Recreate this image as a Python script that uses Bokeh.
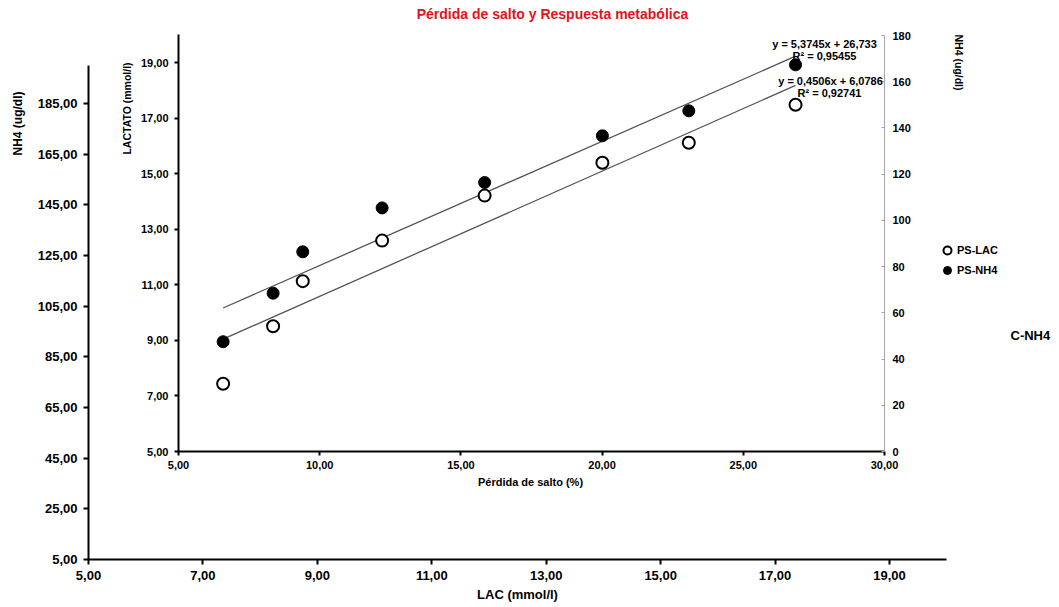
import math
from bokeh.plotting import figure
from bokeh.models import LinearAxis, Range1d, Label, Legend, LegendItem, FixedTicker
from bokeh.embed import file_html
from bokeh.resources import INLINE

# ---------------- data ----------------
title_text = "Pérdida de salto y Respuesta metabólica"
perdida_salto = [6.58, 8.35, 9.40, 12.21, 15.84, 20.01, 23.07, 26.85]
lactato = [7.44, 9.51, 11.13, 12.59, 14.21, 15.39, 16.11, 17.48]
nh4 = [47.5, 68.5, 86.4, 105.4, 116.4, 136.6, 147.4, 167.3]
series_names = ["PS-LAC", "PS-NH4"]
fit_nh4 = [5.3745, 26.733, 0.95455]   # slope, intercept, R²
fit_lac = [0.4506, 6.0786, 0.92741]
outer_x_ticks = [5, 7, 9, 11, 13, 15, 17, 19]
outer_y_ticks = [5, 25, 45, 65, 85, 105, 125, 145, 165, 185]
ps_ticks = [5, 10, 15, 20, 25, 30]
lac_ticks = [5, 7, 9, 11, 13, 15, 17, 19]
nh4_ticks = [0, 20, 40, 60, 80, 100, 120, 140, 160, 180]
extra_legend_text = "C-NH4"

# ---------------- layout ----------------
W, H = 1057, 605
FL, FR, FT, FB = 0, W, 0, H  # frame = whole canvas (page pixels)
FONT = "Liberation Sans"


def rng(v0, p0, v1, p1, lo, hi):
    k = (v1 - v0) / (p1 - p0)
    return Range1d(start=v0 + (lo - p0) * k, end=v0 + (hi - p0) * k)


xo = rng(5, 88, 19, 889, FL, FR)
yo = rng(5, 559, 185, 103, FB, FT)

p = figure(width=W, height=H, output_backend="svg", toolbar_location=None,
           x_range=xo, y_range=yo,
           min_border_left=0, min_border_right=0, min_border_top=0, min_border_bottom=0)
p.outline_line_color = None
p.xgrid.visible = False
p.ygrid.visible = False
p.background_fill_color = "white"
p.border_fill_color = "white"

p.extra_x_ranges = {"ps": rng(5, 178, 30, 884, FL, FR)}
p.extra_y_ranges = {"lac": rng(5, 451, 19, 62, FB, FT),
                    "nh4r": rng(0, 451, 180, 35, FB, FT)}


def fmt(ticks):
    return {t: f"{t:.2f}".replace(".", ",") for t in ticks}


def style(ax, size, ticks, overrides=True, color="black", lw=2, t_out=5, t_in=0, standoff=6):
    ax.ticker = FixedTicker(ticks=ticks)
    if overrides:
        ax.major_label_overrides = fmt(ticks)
    ax.axis_line_color = color
    ax.axis_line_width = lw
    ax.major_tick_line_color = color
    ax.major_tick_line_width = lw
    ax.major_tick_out = t_out
    ax.major_tick_in = t_in
    ax.minor_tick_out = 0
    ax.minor_tick_in = 0
    ax.major_label_standoff = standoff
    ax.major_label_text_font = FONT
    ax.major_label_text_font_style = "bold"
    ax.major_label_text_font_size = size
    ax.major_label_text_color = "black"


# outer axes (LAC vs NH4)
style(p.xaxis[0], "13px", outer_x_ticks)
p.xaxis[0].bounds = (5, 20)
p.xaxis[0].fixed_location = 5
style(p.yaxis[0], "13px", outer_y_ticks)
p.yaxis[0].bounds = (5, 200)
p.yaxis[0].fixed_location = 5

# inner axes
ax_ps = LinearAxis(x_range_name="ps", y_range_name="lac", fixed_location=5, bounds=(5, 30))
style(ax_ps, "11px", ps_ticks, t_out=4, standoff=5)
p.add_layout(ax_ps, "below")

ax_lac = LinearAxis(x_range_name="ps", y_range_name="lac", fixed_location=5, bounds=(5, 20))
style(ax_lac, "11px", lac_ticks, t_out=4, standoff=6)
p.add_layout(ax_lac, "left")

ax_nh4 = LinearAxis(x_range_name="ps", y_range_name="nh4r", fixed_location=30, bounds=(0, 180))
style(ax_nh4, "11px", nh4_ticks, overrides=False, color="#a6a6a6", lw=1, t_out=0, t_in=3, standoff=8)
p.add_layout(ax_nh4, "right")

# trendlines
xs_fit = [min(perdida_salto), max(perdida_salto)]
p.line(xs_fit, [fit_nh4[0] * x + fit_nh4[1] for x in xs_fit], x_range_name="ps", y_range_name="nh4r",
       line_color="#555555", line_width=1.3)
p.line(xs_fit, [fit_lac[0] * x + fit_lac[1] for x in xs_fit], x_range_name="ps", y_range_name="lac",
       line_color="#555555", line_width=1.3)

# markers
r_lac = p.scatter(perdida_salto, lactato, x_range_name="ps", y_range_name="lac", marker="circle",
                  size=12, fill_color="white", line_color="black", line_width=2)
r_nh4 = p.scatter(perdida_salto, nh4, x_range_name="ps", y_range_name="nh4r", marker="circle",
                  size=12, fill_color="black", line_color="black", line_width=1)

legend = Legend(items=[LegendItem(label=series_names[0], renderers=[r_lac]),
                       LegendItem(label=series_names[1], renderers=[r_nh4])],
                location=(937 - FL, FB - 280), orientation="vertical",
                glyph_width=20, glyph_height=20, label_height=20, label_standoff=0,
                spacing=0, padding=0, margin=0, border_line_color=None,
                background_fill_alpha=0,
                label_text_font=FONT, label_text_font_style="bold",
                label_text_font_size="11px", label_text_color="black")
p.add_layout(legend, "center")


def X(px):
    return xo.start + (px - FL) * (xo.end - xo.start) / (FR - FL)


def Y(py):
    return yo.start + (FB - py) * (yo.end - yo.start) / (FB - FT)


def lab(text, px, py, size, align="center", angle=0.0, color="black"):
    p.add_layout(Label(x=X(px), y=Y(py), text=text, text_align=align, text_baseline="middle",
                       angle=angle, angle_units="rad", text_font=FONT, text_font_style="bold",
                       text_font_size=size, text_color=color))


def num(v, d):
    return f"{v:.{d}f}".replace(".", ",")


lab(title_text, 552, 13, "14px", color="#e3121b")
lab("NH4 (ug/dl)", 17, 123, "12px", angle=math.pi / 2)
lab("LAC (mmol/l)", 517, 594, "13px")
lab("LACTATO (mmol/l)", 126, 108, "10.5px", angle=math.pi / 2)
lab("Pérdida de salto (%)", 530, 481, "11px")
lab("NH4 (ug/dl)", 958, 62, "10.5px", angle=-math.pi / 2)
lab(extra_legend_text, 1010, 335, "13px", align="left")
lab(f"y = {num(fit_nh4[0], 4)}x + {num(fit_nh4[1], 3)}", 824, 43, "11px")
lab(f"R² = {num(fit_nh4[2], 5)}", 824, 55, "11px")
lab(f"y = {num(fit_lac[0], 4)}x + {num(fit_lac[1], 4)}", 830, 80, "11px")
lab(f"R² = {num(fit_lac[2], 5)}", 829, 92, "11px")

open("out.html", "w").write(file_html(p, INLINE))
